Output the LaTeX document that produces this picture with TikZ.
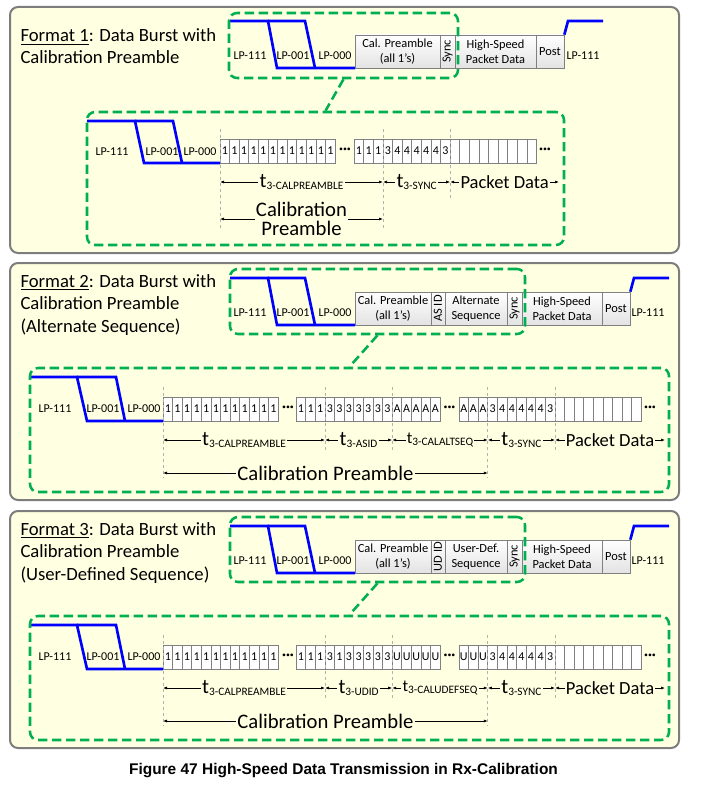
\documentclass[tikz,border=0pt]{standalone}
\usepackage{fontspec}
\setmainfont{Carlito}
\newfontfamily\captionfont{Liberation Sans}
\usetikzlibrary{arrows.meta}
\definecolor{panelfill}{RGB}{255,255,226}
\definecolor{panelline}{RGB}{125,125,125}
\definecolor{zoomgreen}{RGB}{0,176,80}
\definecolor{lpblue}{RGB}{0,0,255}
\newcommand{\tsub}[2][15.5]{{\fontsize{#1}{#1}\selectfont t}\raisebox{-1.5pt}{\fontsize{8.5}{8.5}\selectfont #2}}
\tikzset{every picture/.style={line width=0.75pt},
  panel/.style={draw=panelline, fill=panelfill, line width=1.5pt, rounded corners=6pt},
  zoombox/.style={draw=zoomgreen, line width=1.9pt, dash pattern=on 7pt off 3.5pt, rounded corners=6pt, inner sep=0pt},
  zoomlink/.style={draw=zoomgreen, line width=1.9pt, dash pattern=on 7pt off 3.5pt},
  wave/.style={draw=lpblue, line width=2pt},
  lbl/.style={inner sep=0.75pt, font=\fontsize{9}{9}\selectfont},
  seg/.style={draw=gray, top color=white, bottom color=gray!22, line width=0.5pt, inner sep=0pt, minimum height=24.75pt, align=center, font=\fontsize{9.3}{11.3}\selectfont},
  segtext/.style={rotate=90, inner sep=0pt, font=\fontsize{9.3}{9.3}\selectfont},
  bitcell/.style={draw=gray, fill=white, line width=0.5pt, inner sep=0pt, minimum width=7.2pt, minimum height=18pt, font=\fontsize{9}{9}\selectfont},
  dotsgap/.style={inner sep=0pt, font=\bfseries\fontsize{11}{11}\selectfont},
  bound/.style={draw=gray!60, line width=0.5pt, dash pattern=on 2.5pt off 2pt},
  dim/.style={{Latex[length=3pt,width=2.2pt]}-{Latex[length=3pt,width=2.2pt]}, line width=0.5pt},
  dimlbl/.style={fill=panelfill, inner sep=1pt, font=\fontsize{13.9}{13.9}\selectfont},
  calbl/.style={fill=panelfill, inner sep=1pt, align=center, font=\fontsize{15.5}{14.5}\selectfont},
  headline/.style={anchor=base west, inner sep=0pt, font=\fontsize{14}{14}\selectfont}
}
\begin{document}
\begin{tikzpicture}[x=0.75pt,y=0.75pt,yscale=-1,xscale=1]
\useasboundingbox (0,0) rectangle (700,788);
\fill[white] (0,0) rectangle (700,788);

% Format 1
\draw[panel] (10,7) rectangle (679,253);
\draw (20,42) node [headline] (f1a) {\underline{Format 1}: Data Burst with};
\draw (20,64) node [headline] (f1b) {Calibration Preamble};
\draw[wave] (230,21) -- (268,21) -- (277,68) -- (355,68);
\draw[wave] (268,21) -- (305,21) -- (315,68);
\draw (250,56) node [lbl] (f1l1) {LP-111};
\draw (293,56) node [lbl] (f1l2) {LP-001};
\draw (335,56) node [lbl] (f1l3) {LP-000};
\draw (397.5,51.5) node [seg, minimum width=63.75pt] (f1cal) {Cal. Preamble\\(all 1's)};
\draw (447.5,51.5) node [seg, minimum width=11.25pt] (f1sync) {};
\draw (f1sync) node [segtext] (f1synct) {Sync};
\draw (495.5,51.5) node [seg, minimum width=60.75pt] (f1hs) {High-Speed\\Packet Data};
\draw (550,51.5) node [seg, minimum width=21pt] (f1post) {Post};
\draw[wave] (f1post.north east) -- (568,21) -- (603,21);
\draw (583,56) node [lbl] (f1l4) {LP-111};

\draw[wave] (87,121) -- (135,121) -- (144,163) -- (220,163);
\draw[wave] (135,121) -- (173,121) -- (182,163);
\draw (112,152) node [lbl] (f1l5) {LP-111};
\draw (162,152) node [lbl] (f1l6) {LP-001};
\draw (200,152) node [lbl] (f1l7) {LP-000};
\foreach \v [count=\i from 0] in {1,1,1,1,1,1,1,1,1,1,1,1}
  \draw ({224.8+9.6*\i},151) node [bitcell] (f1p\i) {\v};
\draw (345,151) node [dotsgap] (f1d1) {···};
\foreach \v [count=\i from 0] in {1,1,1,3,4,4,4,4,4,3,{},{},{},{},{},{},{},{},{}}
  \draw ({359+9.6*\i},151) node [bitcell] (f1q\i) {\v};
\draw (545,151) node [dotsgap] (f1d2) {···};
\draw[bound] (220,129) -- (220,228);
\draw[bound] (383,129) -- (383,228);
\draw[bound] (450.2,129) -- (450.2,198);
\coordinate (f1k1) at (220,182);
\coordinate (f1k2) at (383,182);
\coordinate (f1k3) at (450.2,182);
\coordinate (f1k4) at (559,182);
\draw[dim] (f1k1) -- (f1k2) node [midway, dimlbl] (f1t1) {\tsub{3-CALPREAMBLE}};
\draw[dim] (f1k2) -- (f1k3) node [midway, dimlbl] (f1t2) {\tsub{3-SYNC}};
\draw[dim] (f1k3) -- (f1k4) node [midway, dimlbl] (f1t3) {Packet Data};
\coordinate (f1c1) at (220,219);
\coordinate (f1c2) at (383,219);
\draw[dim] (f1c1) -- (f1c2) node [midway, calbl] (f1t4) {Calibration\\Preamble};

\draw (343.5,45.5) node [zoombox, minimum width=171.75pt, minimum height=48.75pt] (f1top) {};
\draw (325.5,178.5) node [zoombox, minimum width=357.75pt, minimum height=99.75pt] (f1low) {};
\draw[zoomlink] (f1top.south) -- (f1low.north);

% Format 2
\draw[panel] (10,263) rectangle (679,500);
\draw (20,287) node [headline] (f2a) {\underline{Format 2}: Data Burst with};
\draw (20,309.5) node [headline] (f2b) {Calibration Preamble};
\draw (20,332) node [headline] (f2c) {(Alternate Sequence)};
\draw[wave] (230,278) -- (268,278) -- (277,325) -- (355,325);
\draw[wave] (268,278) -- (305,278) -- (315,325);
\draw (250,313) node [lbl] (f2l1) {LP-111};
\draw (293,313) node [lbl] (f2l2) {LP-001};
\draw (335,313) node [lbl] (f2l3) {LP-000};
\draw (393,308.5) node [seg, minimum width=57pt] (f2cal) {Cal. Preamble\\(all 1's)};
\draw (438,308.5) node [seg, minimum width=10.5pt] (f2asid) {};
\draw (f2asid) node [segtext] (f2asidt) {AS ID};
\draw (476,308.5) node [seg, minimum width=46.5pt] (f2alt) {Alternate\\Sequence};
\draw (514.5,308.5) node [seg, minimum width=11.25pt] (f2sync) {};
\draw (f2sync) node [segtext] (f2synct) {Sync};
\draw (562,308.5) node [seg, minimum width=60pt] (f2hs) {High-Speed\\Packet Data};
\draw (616,308.5) node [seg, minimum width=21pt] (f2post) {Post};
\draw[wave] (f2post.north east) -- (634,278) -- (669,278);
\draw (648,313) node [lbl] (f2l4) {LP-111};

\draw[wave] (30,377) -- (77,377) -- (87,421) -- (163,421);
\draw[wave] (77,377) -- (116,377) -- (125,421);
\draw (55,409) node [lbl] (f2l5) {LP-111};
\draw (103,409) node [lbl] (f2l6) {LP-001};
\draw (144,409) node [lbl] (f2l7) {LP-000};
\foreach \v [count=\i from 0] in {1,1,1,1,1,1,1,1,1,1,1,1}
  \draw ({167.8+9.6*\i},409) node [bitcell] (f2p\i) {\v};
\draw (288,409) node [dotsgap] (f2d1) {···};
\foreach \v [count=\i from 0] in {1,1,1,3,3,3,3,3,3,3,A,A,A,A,A}
  \draw ({301+9.6*\i},409) node [bitcell] (f2q\i) {\v};
\draw (449.5,409) node [dotsgap] (f2d2) {···};
\foreach \v [count=\i from 0] in {A,A,A,3,4,4,4,4,4,3,{},{},{},{},{},{},{},{},{}}
  \draw ({463.8+9.6*\i},409) node [bitcell] (f2r\i) {\v};
\draw (650,409) node [dotsgap] (f2d3) {···};
\draw[bound] (163,387) -- (163,478);
\draw[bound] (325,387) -- (325,453);
\draw[bound] (392.2,387) -- (392.2,453);
\draw[bound] (487.8,387) -- (487.8,478);
\draw[bound] (555,387) -- (555,453);
\coordinate (f2k1) at (163,440);
\coordinate (f2k2) at (325,440);
\coordinate (f2k3) at (392.2,440);
\coordinate (f2k4) at (487.8,440);
\coordinate (f2k5) at (555,440);
\coordinate (f2k6) at (665,440);
\draw[dim] (f2k1) -- (f2k2) node [midway, dimlbl] (f2t1) {\tsub{3-CALPREAMBLE}};
\draw[dim] (f2k2) -- (f2k3) node [midway, dimlbl] (f2t2) {\tsub{3-ASID}};
\draw[dim] (f2k3) -- (f2k4) node [midway, dimlbl] (f2t3) {\tsub[12.5]{3-CALALTSEQ}};
\draw[dim] (f2k4) -- (f2k5) node [midway, dimlbl] (f2t4) {\tsub{3-SYNC}};
\draw[dim] (f2k5) -- (f2k6) node [midway, dimlbl] (f2t5) {Packet Data};
\coordinate (f2c1) at (163,473);
\coordinate (f2c2) at (487.8,473);
\draw[dim] (f2c1) -- (f2c2) node [midway, calbl] (f2t6) {Calibration Preamble};

\draw (377.5,301.5) node [zoombox, minimum width=221.25pt, minimum height=48.75pt] (f2top) {};
\draw (349.5,430) node [zoombox, minimum width=479.25pt, minimum height=93pt] (f2low) {};
\draw[zoomlink] (f2top.south) -- (f2low.north);

% Format 3
\draw[panel] (10,511) rectangle (679,748);
\draw (20,535) node [headline] (f3a) {\underline{Format 3}: Data Burst with};
\draw (20,557.5) node [headline] (f3b) {Calibration Preamble};
\draw (20,580) node [headline] (f3c) {(User-Defined Sequence)};
\draw[wave] (230,526) -- (268,526) -- (277,573) -- (355,573);
\draw[wave] (268,526) -- (305,526) -- (315,573);
\draw (250,561) node [lbl] (f3l1) {LP-111};
\draw (293,561) node [lbl] (f3l2) {LP-001};
\draw (335,561) node [lbl] (f3l3) {LP-000};
\draw (393,556.5) node [seg, minimum width=57pt] (f3cal) {Cal. Preamble\\(all 1's)};
\draw (438,556.5) node [seg, minimum width=10.5pt] (f3udid) {};
\draw (f3udid) node [segtext] (f3udidt) {UD ID};
\draw (476,556.5) node [seg, minimum width=46.5pt] (f3udef) {User-Def.\\Sequence};
\draw (514.5,556.5) node [seg, minimum width=11.25pt] (f3sync) {};
\draw (f3sync) node [segtext] (f3synct) {Sync};
\draw (562,556.5) node [seg, minimum width=60pt] (f3hs) {High-Speed\\Packet Data};
\draw (616,556.5) node [seg, minimum width=21pt] (f3post) {Post};
\draw[wave] (f3post.north east) -- (634,526) -- (669,526);
\draw (648,561) node [lbl] (f3l4) {LP-111};

\draw[wave] (30,625) -- (77,625) -- (87,669) -- (163,669);
\draw[wave] (77,625) -- (116,625) -- (125,669);
\draw (55,657) node [lbl] (f3l5) {LP-111};
\draw (103,657) node [lbl] (f3l6) {LP-001};
\draw (144,657) node [lbl] (f3l7) {LP-000};
\foreach \v [count=\i from 0] in {1,1,1,1,1,1,1,1,1,1,1,1}
  \draw ({167.8+9.6*\i},657) node [bitcell] (f3p\i) {\v};
\draw (288,657) node [dotsgap] (f3d1) {···};
\foreach \v [count=\i from 0] in {1,1,1,3,1,3,3,3,3,3,U,U,U,U,U}
  \draw ({301+9.6*\i},657) node [bitcell] (f3q\i) {\v};
\draw (449.5,657) node [dotsgap] (f3d2) {···};
\foreach \v [count=\i from 0] in {U,U,U,3,4,4,4,4,4,3,{},{},{},{},{},{},{},{},{}}
  \draw ({463.8+9.6*\i},657) node [bitcell] (f3r\i) {\v};
\draw (650,657) node [dotsgap] (f3d3) {···};
\draw[bound] (163,635) -- (163,726);
\draw[bound] (325,635) -- (325,701);
\draw[bound] (392.2,635) -- (392.2,701);
\draw[bound] (487.8,635) -- (487.8,726);
\draw[bound] (555,635) -- (555,701);
\coordinate (f3k1) at (163,688);
\coordinate (f3k2) at (325,688);
\coordinate (f3k3) at (392.2,688);
\coordinate (f3k4) at (487.8,688);
\coordinate (f3k5) at (555,688);
\coordinate (f3k6) at (665,688);
\draw[dim] (f3k1) -- (f3k2) node [midway, dimlbl] (f3t1) {\tsub{3-CALPREAMBLE}};
\draw[dim] (f3k2) -- (f3k3) node [midway, dimlbl] (f3t2) {\tsub{3-UDID}};
\draw[dim] (f3k3) -- (f3k4) node [midway, dimlbl] (f3t3) {\tsub[12.5]{3-CALUDEFSEQ}};
\draw[dim] (f3k4) -- (f3k5) node [midway, dimlbl] (f3t4) {\tsub{3-SYNC}};
\draw[dim] (f3k5) -- (f3k6) node [midway, dimlbl] (f3t5) {Packet Data};
\coordinate (f3c1) at (163,721);
\coordinate (f3c2) at (487.8,721);
\draw[dim] (f3c1) -- (f3c2) node [midway, calbl] (f3t6) {Calibration Preamble};

\draw (377.5,549.5) node [zoombox, minimum width=221.25pt, minimum height=48.75pt] (f3top) {};
\draw (349.5,678) node [zoombox, minimum width=479.25pt, minimum height=93pt] (f3low) {};
\draw[zoomlink] (f3top.south) -- (f3low.north);

\draw (343.5,774) node [anchor=base, inner sep=0pt, font=\captionfont\bfseries\fontsize{11.6}{11.6}\selectfont] (cap) {Figure 47 High-Speed Data Transmission in Rx-Calibration};
\end{tikzpicture}
\end{document}
